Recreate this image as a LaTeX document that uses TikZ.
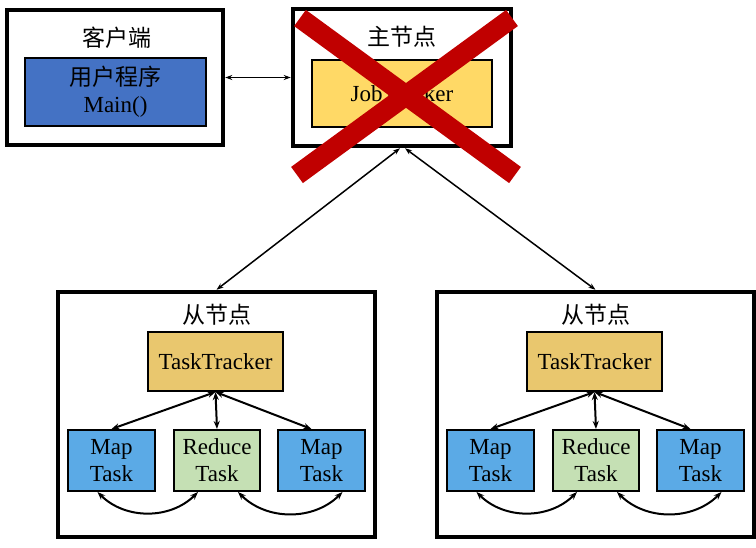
\documentclass[tikz,border=0pt]{standalone}
\usepackage{fontspec}
\setmainfont{Liberation Serif}
\newfontfamily\cjk{Noto Sans CJK SC}
\usetikzlibrary{positioning,arrows.meta}
\definecolor{clientblue}{RGB}{68,114,196}
\definecolor{jobyellow}{RGB}{255,217,102}
\definecolor{ttgold}{RGB}{233,199,110}
\definecolor{mapblue}{RGB}{91,170,230}
\definecolor{redgreen}{RGB}{197,224,180}
\definecolor{crossred}{RGB}{192,0,0}

\begin{document}
\begin{tikzpicture}[
  x=1pt, y=-1pt,
  every node/.style={font=\fontsize{23}{27}\selectfont, align=center, inner sep=0pt},
  outer/.style={draw, line width=4.5pt, rectangle},
  inner/.style={draw, line width=2pt, rectangle},
  jobbox/.style={inner, fill=jobyellow, minimum width=180pt, minimum height=67pt},
  ttbox/.style={inner, fill=ttgold, minimum width=135pt, minimum height=59pt},
  mapbox/.style={inner, fill=mapblue, minimum width=87pt, minimum height=61pt},
  redbox/.style={inner, fill=redgreen, minimum width=86pt, minimum height=61pt},
  arr/.style={{Stealth[length=7pt,width=5pt]}-{Stealth[length=7pt,width=5pt]}, line width=1.5pt},
  tarr/.style={{Stealth[length=8pt,width=6pt]}-{Stealth[length=8pt,width=6pt]}, line width=2pt}
]
\useasboundingbox (0,0) rectangle (756,548);

% Client and master
\node[outer, minimum width=216pt, minimum height=135pt] (client) at (115,77.5) {};
\node (clienttitle) at (117,38) {\cjk 客户端};
\node[inner, fill=clientblue, minimum width=181pt, minimum height=68pt] (userprog)
  at (115.5,92) {\cjk 用户程序\\Main()};

\node[outer, minimum width=218pt, minimum height=137pt] (master) at (402,77.5) {};
\node (mastertitle) at (402,37) {\cjk 主节点};
\node[jobbox] (jobtracker) at (402,93.5) {JobTracker};

% Slave nodes
\foreach \s/\dx in {L/0, R/379}{
  \node[outer, minimum width=317pt, minimum height=245pt] (slave\s) at (216.5+\dx,414.5) {};
  \node (slavetitle\s) at (217+\dx,315) {\cjk 从节点};
  \node[ttbox] (tt\s) at (215.5+\dx,361.5) {TaskTracker};
  \node[mapbox] (mapA\s) at (111.5+\dx,460.5) {Map\\Task};
  \node[redbox] (reduce\s) at (217+\dx,460.5) {Reduce\\Task};
  \node[mapbox] (mapB\s) at (321.5+\dx,460.5) {Map\\Task};
  \draw[tarr] (tt\s.south) -- (mapA\s.north);
  \draw[tarr] (tt\s.south) -- (reduce\s.north);
  \draw[tarr] (tt\s.south) -- ([xshift=-10pt]mapB\s.north);
  \draw[tarr] ([xshift=-14pt]mapA\s.south) to[bend right=45] ([xshift=-19pt]reduce\s.south);
  \draw[tarr] ([xshift=21pt]reduce\s.south) to[bend right=45] ([xshift=21pt]mapB\s.south);
}

% Connections
\draw[arr] (client) -- (master);
\draw[arr] ([xshift=-2pt]master.south) -- (slaveL.north);
\draw[arr] ([xshift=3pt]master.south) -- (slaveR.north);

% Master is down
\draw[line width=20pt, crossred] (300,18) -- (515,175);
\draw[line width=20pt, crossred] (512,18) -- (297,175);

\end{tikzpicture}
\end{document}
